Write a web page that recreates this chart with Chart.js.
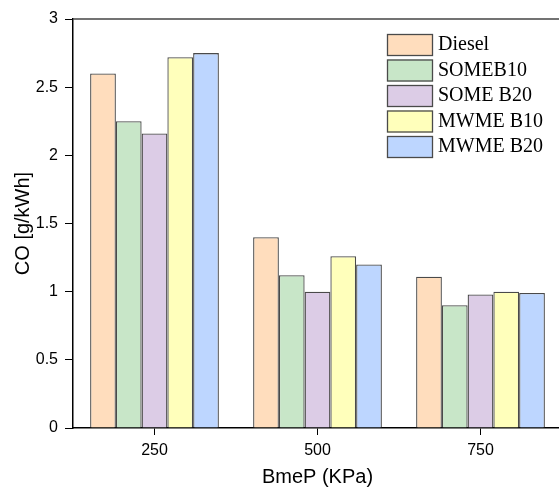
<!DOCTYPE html>
<html>
<head>
<meta charset="utf-8">
<script src="https://cdn.jsdelivr.net/npm/chart.js@4/dist/chart.umd.min.js"></script>
<style>
  html, body { margin: 0; padding: 0; background: #fff; overflow: hidden; }
  #wrap { width: 562px; height: 492px; }
</style>
</head>
<body>
<div id="wrap"><canvas id="grafico" width="562" height="492"></canvas></div>
<script>
const categorias = ['250', '500', '750'];
const diesel = [2.60, 1.40, 1.11];
const someB10 = [2.25, 1.12, 0.90];
const someB20 = [2.16, 1.00, 0.98];
const mwmeB10 = [2.72, 1.26, 1.00];
const mwmeB20 = [2.75, 1.20, 0.99];
const yTicks = [0, 0.5, 1, 1.5, 2, 2.5, 3];

const series = [
  { label: 'Diesel', data: diesel, cor: '#FFDDBD' },
  { label: 'SOMEB10', data: someB10, cor: '#C8E6C8' },
  { label: 'SOME B20', data: someB20, cor: '#DCCCE6' },
  { label: 'MWME B10', data: mwmeB10, cor: '#FFFFBB' },
  { label: 'MWME B20', data: mwmeB20, cor: '#BDD6FF' }
];

// legenda desenhada dentro do grafico
const legendaInterna = {
  id: 'legendaInterna',
  afterDraw(chart) {
    const ctx = chart.ctx;
    ctx.save();
    ctx.font = '20px "Liberation Serif", "Times New Roman", serif';
    ctx.textBaseline = 'middle';
    chart.data.datasets.forEach((ds, i) => {
      const y = 34 + i * 25.5;
      ctx.fillStyle = ds.backgroundColor;
      ctx.fillRect(387, y, 46, 22);
      ctx.strokeStyle = '#4a4a4a';
      ctx.lineWidth = 1.3;
      ctx.strokeRect(387.5, y + 0.5, 45, 21);
      ctx.fillStyle = '#000';
      ctx.fillText(ds.label, 438, y + 11);
    });
    ctx.restore();
  }
};

// linha superior do quadro
const linhaTopo = {
  id: 'linhaTopo',
  afterDraw(chart) {
    const { ctx, chartArea } = chart;
    ctx.save();
    ctx.strokeStyle = '#444';
    ctx.lineWidth = 1.5;
    ctx.beginPath();
    ctx.moveTo(chartArea.left, chartArea.top);
    ctx.lineTo(chartArea.right, chartArea.top);
    ctx.stroke();
    ctx.restore();
  }
};

new Chart(document.getElementById('grafico'), {
  type: 'bar',
  data: {
    labels: categorias,
    datasets: series.map(s => ({
      label: s.label,
      data: s.data,
      backgroundColor: s.cor,
      borderColor: '#4a4a4a',
      borderWidth: 1.3,
      categoryPercentage: 0.79,
      barPercentage: 1.0
    }))
  },
  options: {
    responsive: false,
    animation: false,
    layout: { padding: { top: 19, right: 0, left: 0, bottom: 0 } },
    plugins: {
      legend: { display: false },
      tooltip: { enabled: false }
    },
    scales: {
      x: {
        grid: { drawOnChartArea: false, drawTicks: true, tickLength: 7, color: '#000', offset: false },
        border: { color: '#000', width: 1.5 },
        ticks: {
          color: '#000',
          padding: 6,
          font: { family: '"Liberation Sans", Arial, sans-serif', size: 16 }
        },
        title: {
          display: true,
          text: 'BmeP (KPa)',
          color: '#000',
          padding: { top: 0, bottom: 3 },
          font: { family: '"Liberation Sans", Arial, sans-serif', size: 20 }
        },
        afterFit(scale) { scale.height = 64; }
      },
      y: {
        min: 0,
        max: 3,
        afterBuildTicks(scale) { scale.ticks = yTicks.map(v => ({ value: v })); },
        grid: { drawOnChartArea: false, drawTicks: true, tickLength: 8, color: '#000' },
        border: { color: '#000', width: 1.5 },
        ticks: {
          color: '#000',
          padding: 7,
          font: { family: '"Liberation Sans", Arial, sans-serif', size: 16 },
          callback: v => String(v)
        },
        title: {
          display: true,
          text: 'CO [g/kWh]',
          color: '#000',
          padding: { top: 11, bottom: 0 },
          font: { family: '"Liberation Sans", Arial, sans-serif', size: 20 }
        },
        afterFit(scale) { scale.width = 73; }
      }
    }
  },
  plugins: [legendaInterna, linhaTopo]
});
</script>
</body>
</html>
